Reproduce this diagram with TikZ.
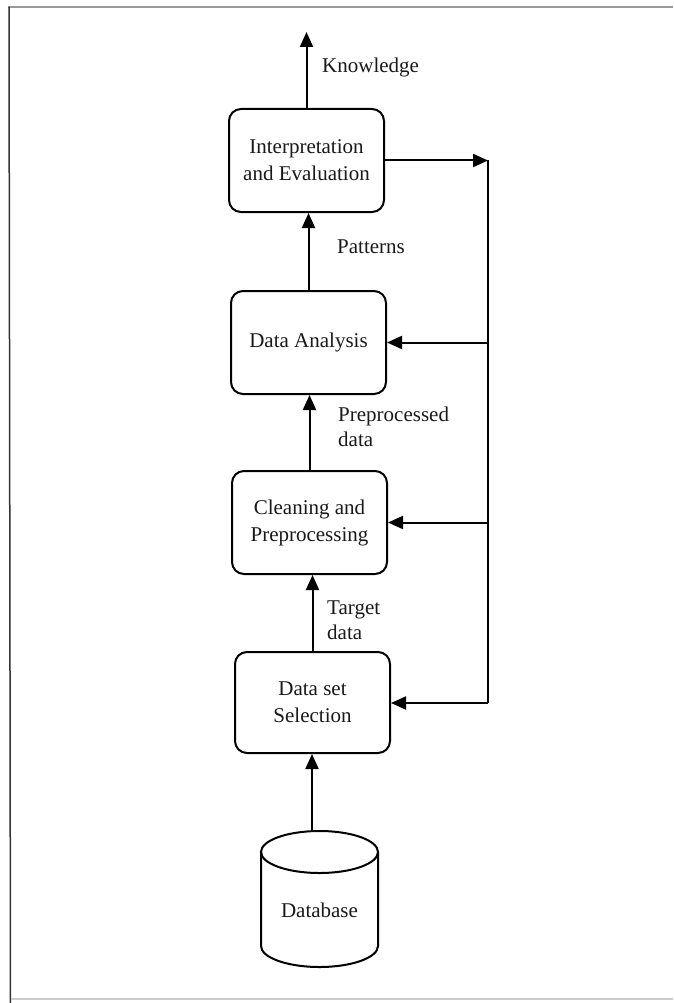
\documentclass[tikz,border=0pt]{standalone}
\usepackage{fontspec}
\setmainfont{Liberation Serif}
\usetikzlibrary{arrows.meta,calc}
\begin{document}
\begin{tikzpicture}[x=1pt,y=1pt,
  stage/.style={draw=black, line width=2pt, rounded corners=12pt,
    minimum width=155pt, minimum height=103pt, align=center, inner sep=0pt,
    font=\fontsize{21}{27}\selectfont, text=black!90},
  lbl/.style={anchor=west, align=left, inner sep=0pt,
    font=\fontsize{21}{25}\selectfont, text=black!90},
  arr/.style={draw=black, line width=2pt, -{Triangle[length=15pt,width=13pt]}},
  ln/.style={draw=black, line width=2pt}]
\useasboundingbox (0,0) rectangle (673,-1003);
% frame
\draw[gray!80, line width=1.5pt] (8,-7) -- (673,-7);
\draw[black!80, line width=1.5pt] (9,-7) -- (10.5,-1003);
\draw[black!20, line width=2pt] (10.5,-999) -- (673,-999);

% stages
\node[stage] (interp) at (306.5,-160.5) {Interpretation\\and Evaluation};
\node[stage] (anal) at (308.5,-342.5) {Data Analysis};
\node[stage] (clean) at (309.5,-522.5) {Cleaning and\\Preprocessing};
\node[stage, minimum height=101pt] (sel) at (312.5,-702.5) {Data set\\Selection};

% database cylinder
\draw[ln] (261,-852) -- (261,-946)
  arc[start angle=180, end angle=360, x radius=58.5, y radius=21] -- (378,-852);
\draw[ln] (319.5,-852) ellipse[x radius=58.5, y radius=21];
\node[font=\fontsize{21}{25}\selectfont, text=black!90] (db) at (319.5,-910) {Database};
\coordinate (dbtop) at (312,-831.5);

% main flow
\coordinate (know) at (306.5,-32);
\draw[arr] (interp.north) -- (know);
\draw[arr] (anal.north) -- (anal.north |- interp.south);
\draw[arr] (clean.north) -- (clean.north |- anal.south);
\draw[arr] (sel.north) -- (sel.north |- clean.south);
\draw[arr] (dbtop) -- (dbtop |- sel.south);

% feedback
\coordinate (fbtop) at (488,-160.5);
\coordinate (fbbot) at (488,-703);
\draw[arr] (interp.east) -- (fbtop);
\draw[ln] (fbtop) -- (fbbot);
\draw[arr] (fbtop |- anal.east) -- (anal.east);
\draw[arr] (fbtop |- clean.east) -- (clean.east);
\draw[arr] (fbbot) -- (sel.east |- fbbot);

% labels
\node[lbl] (lknow) at (322,-67) {Knowledge};
\node[lbl] (lpat) at (337,-247) {Patterns};
\node[lbl] (lpre) at (338,-427) {Preprocessed\\data};
\node[lbl] (ltar) at (327,-620) {Target\\data};
\end{tikzpicture}
\end{document}
